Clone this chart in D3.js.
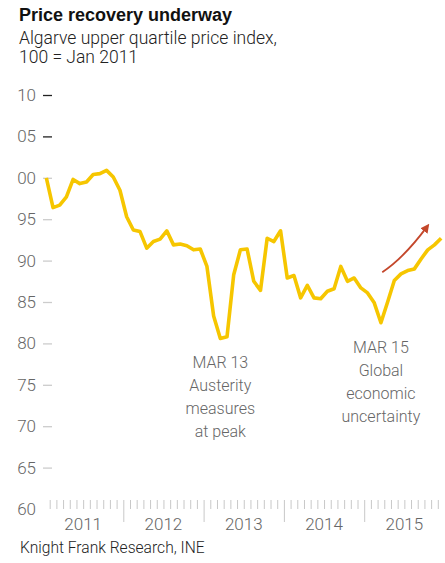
<!DOCTYPE html>
<html>
<head>
<meta charset="utf-8">
<title>Price recovery underway</title>
<script src="https://d3js.org/d3.v7.min.js"></script>
<style>
  body { margin: 0; background: #fff; }
  svg { display: block; }
  .light { font-family: Roboto, "Liberation Sans", Arial, sans-serif; font-weight: 300; }
</style>
</head>
<body>
<script>
// monthly index, Jan 2011 .. Dec 2015 (100 = Jan 2011)
var startYear = 2011;
var values = [
  100.0, 96.4, 96.7, 97.7, 99.8, 99.3, 99.5, 100.4, 100.5, 100.9, 100.1, 98.5,
  95.3, 93.7, 93.5, 91.5, 92.3, 92.6, 93.6, 91.9, 92.0, 91.8, 91.3, 91.4,
  89.3, 83.3, 80.6, 80.8, 88.3, 91.3, 91.4, 87.5, 86.4, 92.7, 92.3, 93.6,
  87.9, 88.2, 85.5, 87.0, 85.5, 85.4, 86.3, 86.6, 89.3, 87.5, 87.9, 86.7,
  86.1, 84.9, 82.5, 85.0, 87.6, 88.4, 88.8, 89.0, 90.2, 91.3, 91.9, 92.7
];
var years = [2011, 2012, 2013, 2014, 2015];
var yTicks = [60, 65, 70, 75, 80, 85, 90, 95, 100, 105, 110];
var notes = [
  {month: 26, lines: ["MAR 13", "Austerity", "measures", "at peak"]},
  {month: 50, lines: ["MAR 15", "Global", "economic", "uncertainty"]}
];
// arrow annotation in (month, value) units: start, bend, tip
var arrow = [[50.2, 88.6], [53.4, 90.3], [56.9, 94.1]];

var W = 445, H = 563;
var svg = d3.select("body").append("svg")
    .attr("width", W)
    .attr("height", H);

var x = d3.scaleLinear().domain([0, 60]).range([43, 444.5]);
var y = d3.scaleLinear().domain([60, 110]).range([509, 95]);

// titles
svg.append("text")
    .attr("x", 19).attr("y", 21)
    .style("font-family", "'Liberation Sans', Arial, sans-serif")
    .style("font-weight", "bold")
    .style("font-size", "18px")
    .attr("fill", "#111")
    .text("Price recovery underway");

svg.append("text").attr("class", "light")
    .attr("x", 19).attr("y", 44)
    .style("font-size", "17.5px").attr("fill", "#222")
    .text("Algarve upper quartile price index,");
svg.append("text").attr("class", "light")
    .attr("x", 19).attr("y", 63)
    .style("font-size", "17.5px").attr("fill", "#222")
    .text("100 = Jan 2011");

// y axis (labels cut at the left edge like the original crop)
svg.append("clipPath").attr("id", "yclip")
  .append("rect").attr("x", 17).attr("y", 0).attr("width", 60).attr("height", H);

var yAxis = svg.append("g")
    .attr("clip-path", "url(#yclip)")
  .append("g")
    .attr("transform", "translate(52,0)")
    .call(d3.axisLeft(y).tickValues(yTicks).tickSize(9).tickPadding(7));
yAxis.select(".domain").remove();
yAxis.selectAll(".tick line")
    .attr("stroke", d => d > 100 ? "#222" : "#ccc")
    .attr("stroke-width", 1.3)
    .attr("opacity", d => d === 60 ? 0 : 1);
yAxis.selectAll(".tick text")
    .attr("class", "light")
    .style("font-size", "17px")
    .attr("fill", "#666");

// x axis: month ticks + longer year ticks
var months = d3.range(1, 60).filter(m => m % 12 !== 0);
var xAxis = svg.append("g")
    .attr("transform", "translate(0,500)")
    .call(d3.axisBottom(x).tickValues(months).tickSize(9).tickFormat(""));
xAxis.select(".domain").remove();
xAxis.selectAll(".tick line").attr("stroke", "#c8c8c8").attr("stroke-width", 1);

var yearAxis = svg.append("g")
    .attr("transform", "translate(0,500)")
    .call(d3.axisBottom(x).tickValues(d3.range(12, 60, 12)).tickSize(22).tickFormat(""));
yearAxis.select(".domain").remove();
yearAxis.selectAll(".tick line").attr("stroke", "#c8c8c8").attr("stroke-width", 1);

svg.append("g").selectAll("text")
    .data(years)
    .join("text")
    .attr("class", "light")
    .attr("x", d => x((d - startYear) * 12 + 6))
    .attr("y", 530)
    .attr("text-anchor", "middle")
    .style("font-size", "17px")
    .attr("fill", "#666")
    .text(d => d);

// line
var line = d3.line()
    .x((d, i) => x(i + 0.5))
    .y(d => y(d));

svg.append("path")
    .datum(values)
    .attr("fill", "none")
    .attr("stroke", "#f6c600")
    .attr("stroke-width", 3.6)
    .attr("stroke-linejoin", "round")
    .attr("d", line);

// annotations
notes.forEach(function(n) {
  var t = svg.append("text")
      .attr("class", "light")
      .attr("text-anchor", "middle")
      .style("font-size", "16px")
      .attr("fill", "#666");
  n.lines.forEach(function(s, k) {
    t.append("tspan")
        .attr("x", x(n.month + 0.5))
        .attr("y", y(values[n.month]) + 30 + k * 23)
        .text(s);
  });
});

// red arrow
svg.append("defs").append("marker")
    .attr("id", "head")
    .attr("viewBox", "0 0 10 10")
    .attr("refX", 6).attr("refY", 5)
    .attr("markerWidth", 5).attr("markerHeight", 5)
    .attr("orient", "auto")
  .append("path")
    .attr("d", "M0,0L10,5L0,10Z")
    .attr("fill", "#c4472b");

var ap = arrow.map(p => [x(p[0] + 0.5), y(p[1])]);
svg.append("path")
    .attr("d", "M" + ap[0] + "Q" + ap[1] + " " + ap[2])
    .attr("fill", "none")
    .attr("stroke", "#c4472b")
    .attr("stroke-width", 1.8)
    .attr("marker-end", "url(#head)");

// source
svg.append("text").attr("class", "light")
    .attr("x", 20).attr("y", 553)
    .style("font-size", "15.6px").attr("fill", "#222")
    .text("Knight Frank Research, INE");
</script>
</body>
</html>
